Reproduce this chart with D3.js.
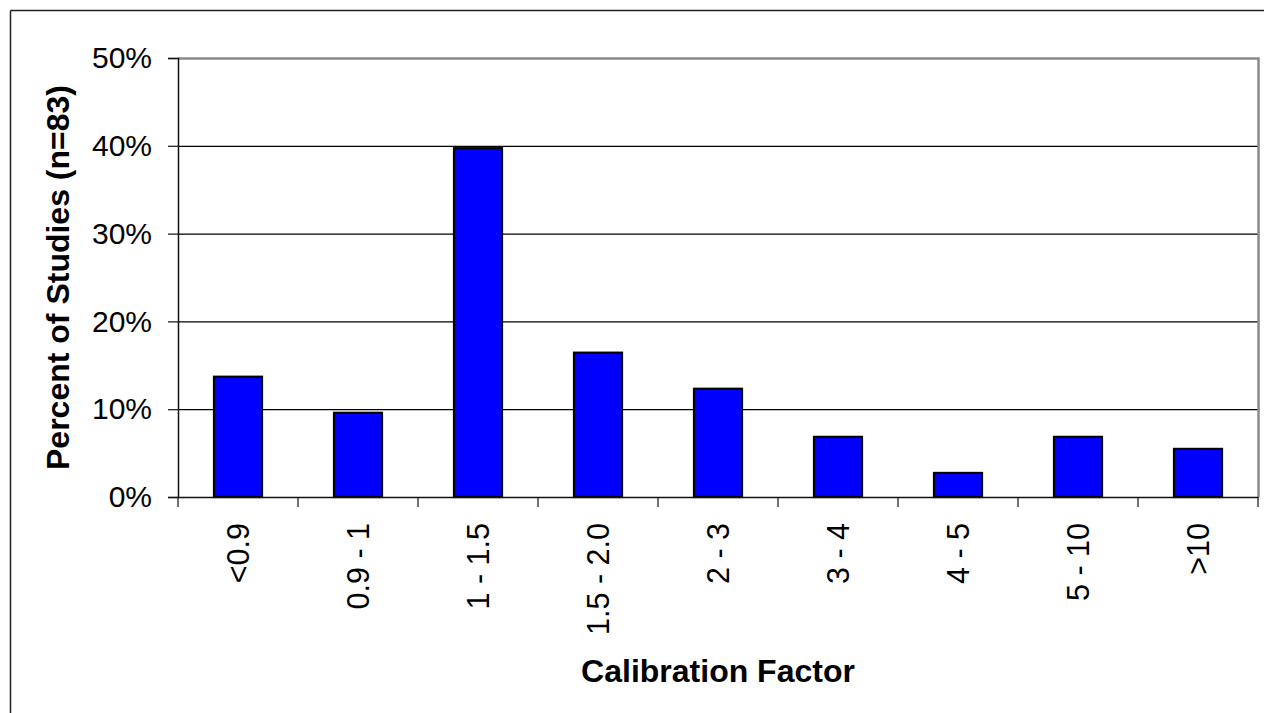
<!DOCTYPE html>
<html>
<head>
<meta charset="utf-8">
<script src="https://cdn.jsdelivr.net/npm/d3@7"></script>
<style>
  html, body { margin: 0; padding: 0; background: #fff; }
  svg { display: block; font-family: "Liberation Sans", Arial, sans-serif; }
</style>
</head>
<body>
<svg id="chart" width="1264" height="713"></svg>
<script>
const categories = ["<0.9", "0.9 - 1", "1 - 1.5", "1.5 - 2.0", "2 - 3", "3 - 4", "4 - 5", "5 - 10", ">10"];
const percentValues = [13.70, 9.59, 39.73, 16.44, 12.33, 6.85, 2.74, 6.85, 5.48];
const yTickValues = [0, 10, 20, 30, 40, 50];
const yTitle = "Percent of Studies (n=83)";
const xTitle = "Calibration Factor";

(function () {
const svg = d3.select("#chart");
const pLeft = 178, pRight = 1258, pTop = 58, pBottom = 497;

// outer chart frame (extends beyond the picture on right/bottom)
svg.append("line").attr("x1", 10.5).attr("x2", 1264).attr("y1", 10.5).attr("y2", 10.5)
  .attr("stroke", "#222").attr("stroke-width", 1.5);
svg.append("line").attr("x1", 10.5).attr("x2", 10.5).attr("y1", 10.5).attr("y2", 713)
  .attr("stroke", "#222").attr("stroke-width", 1.5);

const x = d3.scaleBand().domain(categories).range([pLeft, pRight]).paddingInner(0.6).paddingOuter(0.3);
const y = d3.scaleLinear().domain([0, 50]).range([pBottom, pTop]);

// gridlines
svg.append("g").selectAll("line").data(yTickValues.filter(v => v > 0 && v < 50)).join("line")
  .attr("x1", pLeft).attr("x2", pRight)
  .attr("y1", d => y(d) + 0.5).attr("y2", d => y(d) + 0.5)
  .attr("stroke", "#000").attr("stroke-width", 1.2);

// plot border (top/right gray)
svg.append("path")
  .attr("d", `M${pLeft},${pTop + 0.5}H${pRight + 0.5}V${pBottom}`)
  .attr("fill", "none").attr("stroke", "#8a8a8a").attr("stroke-width", 2.5);

// bars
svg.append("g").selectAll("rect").data(percentValues).join("rect")
  .attr("x", (d, i) => x(categories[i]))
  .attr("y", d => y(d))
  .attr("width", x.bandwidth())
  .attr("height", d => y(0) - y(d))
  .attr("fill", "#0000ff").attr("stroke", "#000").attr("stroke-width", 2.2);

// y axis
const yAxis = d3.axisLeft(y).tickValues(yTickValues).tickSize(10).tickPadding(16)
  .tickFormat(d => d + "%");
const gy = svg.append("g").attr("transform", `translate(${pLeft},0)`).call(yAxis);
gy.select(".domain").attr("stroke", "#111").attr("stroke-width", 1.5);
gy.selectAll(".tick line").attr("stroke", "#111").attr("stroke-width", 1.2);
gy.selectAll(".tick text").attr("font-size", 30).attr("fill", "#000")
  .attr("font-family", "'Liberation Sans', Arial, sans-serif");

// x axis
const xAxis = d3.axisBottom(x).tickSize(0).tickSizeOuter(0).tickFormat(d => d);
const gx = svg.append("g").attr("transform", `translate(0,${pBottom})`).call(xAxis);
gx.select(".domain").attr("stroke", "#111").attr("stroke-width", 1.5);
gx.selectAll(".tick line").remove();
gx.selectAll(".tick text")
  .attr("font-size", 30.5).attr("fill", "#000")
  .attr("font-family", "'Liberation Sans', Arial, sans-serif")
  .attr("transform", "translate(0,26) rotate(-90)")
  .attr("text-anchor", "end")
  .attr("x", 0).attr("y", 0).attr("dy", "0.35em");

// x category boundary ticks
const bx = d3.range(categories.length + 1).map(i => pLeft + i * x.step());
svg.append("g").selectAll("line").data(bx).join("line")
  .attr("x1", d => d).attr("x2", d => d)
  .attr("y1", pBottom).attr("y2", pBottom + 10)
  .attr("stroke", "#111").attr("stroke-width", 1.2);

// titles
svg.append("text").text(yTitle)
  .attr("transform", `translate(69,${(pTop + pBottom) / 2}) rotate(-90)`)
  .attr("text-anchor", "middle").attr("font-weight", "bold").attr("font-size", 32).attr("fill", "#000");

svg.append("text").text(xTitle)
  .attr("x", (pLeft + pRight) / 2).attr("y", 682)
  .attr("text-anchor", "middle").attr("font-weight", "bold").attr("font-size", 32).attr("fill", "#000");
})();
</script>
</body>
</html>
